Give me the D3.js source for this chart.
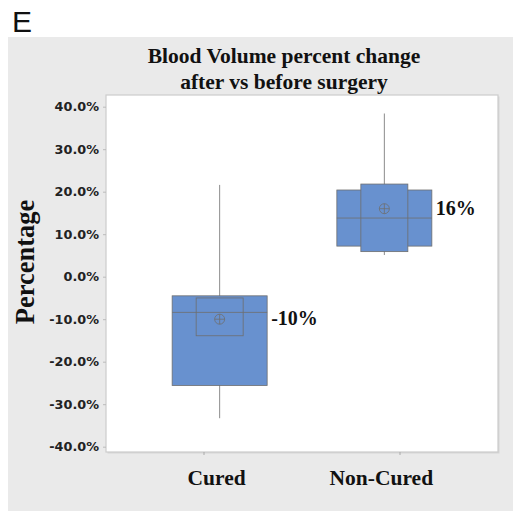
<!DOCTYPE html>
<html>
<head>
<meta charset="utf-8">
<script src="https://cdn.jsdelivr.net/npm/d3@7"></script>
<style>
  html, body { margin: 0; padding: 0; background: #ffffff; }
  svg { display: block; }
</style>
</head>
<body>
<svg id="chart" width="513" height="511"></svg>
<script>
// Groups and box-plot summaries (percent change)
const categories = ["Cured", "Non-Cured"];
const whiskerLow  = [-33.3, 5.1];
const q1          = [-25.6, 7.2];
const ciLow       = [-13.9, 5.9];
const medians     = [-8.4, 13.8];
const ciHigh      = [-5.0, 21.8];
const q3          = [-4.5, 20.4];
const whiskerHigh = [21.6, 38.4];
const means       = [-10, 16];
const meanLabels  = ["-10%", "16%"];
const yTicks      = [40, 30, 20, 10, 0, -10, -20, -30, -40];

const boxes = categories.map((c, i) => ({
  cat: c, lo: whiskerLow[i], q1: q1[i], ciLo: ciLow[i], med: medians[i],
  ciHi: ciHigh[i], q3: q3[i], hi: whiskerHigh[i], mean: means[i], label: meanLabels[i]
}));

const svg = d3.select("#chart");
const W = 513, H = 511;
const plot = { left: 106, top: 95, right: 498, bottom: 452 };

// grey panel behind the chart
svg.append("rect").attr("x", 8).attr("y", 37).attr("width", W - 8).attr("height", H - 37)
  .attr("fill", "#eaeaea");

// panel letter
svg.append("text").attr("x", 12).attr("y", 32)
  .attr("font-family", "'Liberation Sans', Arial, sans-serif").attr("font-size", 30)
  .attr("fill", "#111").text("E");

// title
const title = svg.append("text").attr("text-anchor", "middle")
  .attr("font-family", "'Liberation Serif', 'Times New Roman', serif")
  .attr("font-weight", "bold").attr("font-size", 21.5).attr("fill", "#111");
title.append("tspan").attr("x", 284).attr("y", 63).text("Blood Volume percent change");
title.append("tspan").attr("x", 284).attr("y", 89).text("after vs before surgery");

// plot area with a faint shadow edge
svg.append("rect").attr("x", plot.left + 1.5).attr("y", plot.top + 1.5)
  .attr("width", plot.right - plot.left).attr("height", plot.bottom - plot.top)
  .attr("fill", "#d6d6d6");
svg.append("rect").attr("x", plot.left).attr("y", plot.top)
  .attr("width", plot.right - plot.left).attr("height", plot.bottom - plot.top)
  .attr("fill", "#ffffff").attr("stroke", "#cccccc").attr("stroke-width", 1.2);

// scales
const y = d3.scaleLinear().domain([-40, 40]).range([446.7, 106.7]);
const xTick = d3.scaleBand().domain(categories).range([plot.left, plot.right]);
const xBox = d3.scalePoint().domain(categories).range([plot.left, plot.right]).padding(0.69);
const boxW = 95, ciW = 47;

// y axis
const yAxis = svg.append("g").attr("transform", `translate(${plot.left},0)`)
  .call(d3.axisLeft(y).tickValues(yTicks).tickSize(3).tickPadding(4)
    .tickFormat(d => d.toFixed(1) + "%"));
yAxis.select(".domain").remove();
yAxis.selectAll(".tick line").attr("stroke", "#bbbbbb");
yAxis.selectAll(".tick text")
  .attr("font-family", "'DejaVu Sans', Verdana, sans-serif")
  .attr("font-weight", "bold").attr("font-size", 12.8).attr("fill", "#222");

// x axis ticks
const xAxis = svg.append("g").attr("transform", `translate(0,${plot.bottom})`)
  .call(d3.axisBottom(xTick).tickSize(3).tickFormat(""));
xAxis.select(".domain").remove();
xAxis.selectAll(".tick line").attr("stroke", "#aaaaaa");

// category labels
svg.append("g").selectAll("text").data(categories).join("text")
  .attr("x", d => xBox(d) - 3).attr("y", 485).attr("text-anchor", "middle")
  .attr("font-family", "'Liberation Serif', 'Times New Roman', serif")
  .attr("font-weight", "bold").attr("font-size", 21.5).attr("fill", "#111")
  .text(d => d);

// y axis title
svg.append("text").attr("transform", "translate(34,262) rotate(-90)")
  .attr("text-anchor", "middle")
  .attr("font-family", "'Liberation Serif', 'Times New Roman', serif")
  .attr("font-weight", "bold").attr("font-size", 26.5).attr("fill", "#111")
  .text("Percentage");

// boxes
const fill = "#6891cf", edge = "#6e6e6e";
const g = svg.append("g").selectAll("g").data(boxes).join("g");

g.append("line").attr("x1", d => xBox(d.cat)).attr("x2", d => xBox(d.cat))
  .attr("y1", d => y(d.hi)).attr("y2", d => y(d.lo))
  .attr("stroke", "#8c8c8c").attr("stroke-width", 1);

g.append("rect").attr("x", d => xBox(d.cat) - boxW / 2).attr("width", boxW)
  .attr("y", d => y(d.q3)).attr("height", d => y(d.q1) - y(d.q3))
  .attr("fill", fill).attr("stroke", edge).attr("stroke-width", 0.8);

g.append("rect").attr("x", d => xBox(d.cat) - ciW / 2).attr("width", ciW)
  .attr("y", d => y(d.ciHi)).attr("height", d => y(d.ciLo) - y(d.ciHi))
  .attr("fill", fill).attr("stroke", edge).attr("stroke-width", 0.8);

g.append("line").attr("x1", d => xBox(d.cat) - boxW / 2).attr("x2", d => xBox(d.cat) + boxW / 2)
  .attr("y1", d => y(d.med)).attr("y2", d => y(d.med))
  .attr("stroke", edge).attr("stroke-width", 0.8);

// mean symbol: circle with cross
g.append("circle").attr("cx", d => xBox(d.cat)).attr("cy", d => y(d.mean)).attr("r", 5)
  .attr("fill", "none").attr("stroke", edge).attr("stroke-width", 0.8);
g.append("path")
  .attr("d", d => {
    const cx = xBox(d.cat), cy = y(d.mean);
    return `M${cx - 5},${cy}H${cx + 5}M${cx},${cy - 5}V${cy + 5}`;
  })
  .attr("stroke", edge).attr("stroke-width", 0.8);

// mean value labels
g.append("text").attr("x", d => xBox(d.cat) + boxW / 2 + 4).attr("y", d => y(d.mean) + 6)
  .attr("font-family", "'Liberation Serif', 'Times New Roman', serif")
  .attr("font-weight", "bold").attr("font-size", 20).attr("fill", "#111")
  .text(d => d.label);
</script>
</body>
</html>
